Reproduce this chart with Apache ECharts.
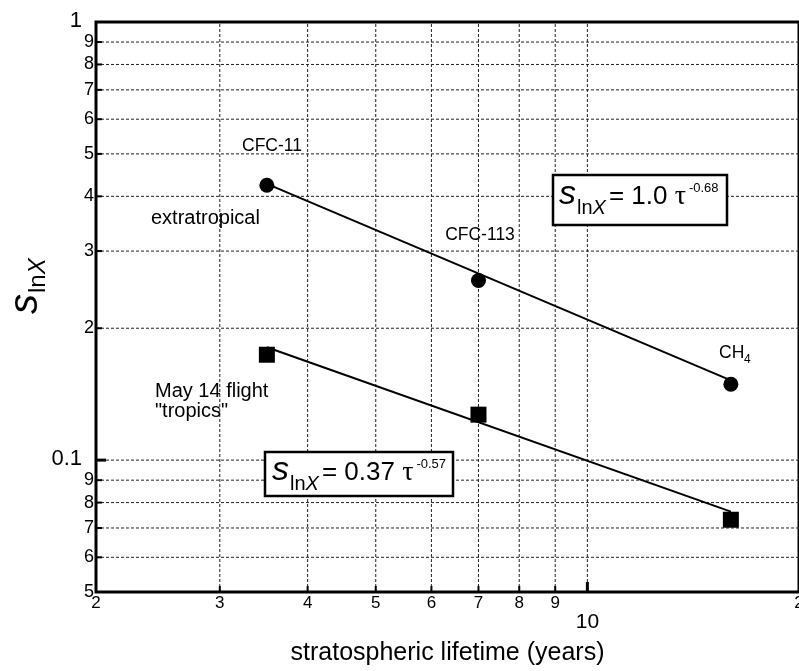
<!DOCTYPE html>
<html>
<head>
<meta charset="utf-8">
<script src="https://cdn.jsdelivr.net/npm/echarts@6/dist/echarts.min.js"></script>
<style>
html,body{margin:0;padding:0;background:#fff;}
#c{width:799px;height:671px;}
</style>
</head>
<body>
<div id="c"></div>
<script>
const FONT = '"Liberation Sans", Arial, Helvetica, sans-serif';
const SERIF = '"Liberation Serif", "Times New Roman", serif';

// axis ranges and tick values
const xRange = [2, 20];
const yRange = [0.05, 1];
const xGridValues = [3, 4, 5, 6, 7, 8, 9, 10];
const yGridValues = [0.06, 0.07, 0.08, 0.09, 0.1, 0.2, 0.3, 0.4, 0.5, 0.6, 0.7, 0.8, 0.9];
const xMinorTicks = [3, 4, 5, 6, 7, 8, 9];
const xMajorTicks = [10];
const yMinorTicks = [0.06, 0.07, 0.08, 0.09, 0.2, 0.3, 0.4, 0.5, 0.6, 0.7, 0.8, 0.9];
const yMajorTicks = [0.1];
const xMinorLabelValues = [2, 3, 4, 5, 6, 7, 8, 9, 20];
const xMinorLabelTexts = ['2', '3', '4', '5', '6', '7', '8', '9', '2'];
const xMajorLabelValues = [10];
const xMajorLabelTexts = ['10'];
const yMinorLabelValues = [0.05, 0.06, 0.07, 0.08, 0.09, 0.2, 0.3, 0.4, 0.5, 0.6, 0.7, 0.8, 0.9];
const yMinorLabelTexts = ['5', '6', '7', '8', '9', '2', '3', '4', '5', '6', '7', '8', '9'];
const yMajorLabelValues = [0.1, 1];
const yMajorLabelTexts = ['0.1', '1'];

// data
const lifetime = [3.5, 7.0, 16.0];
const sExtratropical = [0.424, 0.257, 0.149];
const sTropics = [0.174, 0.127, 0.0731];
const fitLifetime = [3.5, 16.0];
const fitExtratropical = [0.427, 0.152];
const fitTropics = [0.181, 0.0763];

const chart = echarts.init(document.getElementById('c'), null, {renderer: 'canvas'});

function pt(dir, v) {
  return dir === 'x' ? [v, yRange[0]] : [xRange[0], v];
}

function gridLineSeries(values, dir) {
  return {
    type: 'custom', silent: true, z: 1, clip: false,
    data: values.map(v => pt(dir, v)),
    renderItem: (params, api) => {
      const v = api.value(dir === 'x' ? 0 : 1);
      const a = dir === 'x' ? api.coord([v, yRange[0]]) : api.coord([xRange[0], v]);
      const b = dir === 'x' ? api.coord([v, yRange[1]]) : api.coord([xRange[1], v]);
      return {
        type: 'line',
        shape: {x1: a[0], y1: a[1], x2: b[0], y2: b[1]},
        style: {stroke: '#222', lineWidth: 1, lineDash: [3, 2]}
      };
    }
  };
}

function tickSeries(values, dir, len, width) {
  return {
    type: 'custom', silent: true, z: 4, clip: false,
    data: values.map(v => pt(dir, v)),
    renderItem: (params, api) => {
      const p = api.coord([api.value(0), api.value(1)]);
      const shape = dir === 'x'
        ? {x1: p[0], y1: p[1], x2: p[0], y2: p[1] - len}
        : {x1: p[0], y1: p[1], x2: p[0] + len, y2: p[1]};
      return {type: 'line', shape: shape, style: {stroke: '#000', lineWidth: width}};
    }
  };
}

function labelSeries(values, texts, dir, font, align, dx, dy) {
  return {
    type: 'custom', silent: true, z: 4, clip: false,
    data: values.map(v => pt(dir, v)),
    renderItem: (params, api) => {
      const p = api.coord([api.value(0), api.value(1)]);
      return {
        type: 'text', x: p[0] + dx, y: p[1] + dy,
        style: {text: texts[params.dataIndex], font: font, fill: '#000', align: align, verticalAlign: 'middle'}
      };
    }
  };
}

const measureCtx = document.createElement('canvas').getContext('2d');
function textWidth(t, font) { measureCtx.font = font; return measureCtx.measureText(t).width; }
function mathText(left, baseline, parts, z) {
  let x = left;
  const children = [];
  parts.forEach(p => {
    const font = (p.style || 'normal') + ' ' + p.size + 'px ' + (p.family || FONT);
    children.push({
      type: 'text', x: x, y: baseline + (p.dy || 0) - 0.35 * p.size, z: z,
      style: {text: p.text, font: font, fill: '#000', align: 'left', verticalAlign: 'middle'}
    });
    x += textWidth(p.text, font) + (p.gap || 0);
  });
  return children;
}

function plainText(text, x, y, size, align) {
  return {type: 'text', x: x, y: y, z: 10,
    style: {text: text, font: size + 'px ' + FONT, fill: '#000', align: align || 'left', verticalAlign: 'middle'}};
}

const eq1 = [
  {text: 's', size: 34, style: 'italic', gap: 1},
  {text: 'ln', size: 20, dy: 9},
  {text: 'X', size: 20, style: 'italic', dy: 9, gap: 3},
  {text: '= 1.0 ', size: 26},
  {text: 'τ', size: 28, family: SERIF, gap: 3},
  {text: '-0.68', size: 13, dy: -13}
];
const eq2 = [
  {text: 's', size: 34, style: 'italic', gap: 1},
  {text: 'ln', size: 20, dy: 9},
  {text: 'X', size: 20, style: 'italic', dy: 9, gap: 3},
  {text: '= 0.37 ', size: 26},
  {text: 'τ', size: 28, family: SERIF, gap: 3},
  {text: '-0.57', size: 13, dy: -13}
];
const yTitle = [
  {text: 's', size: 40, style: 'italic', gap: 1},
  {text: 'ln', size: 24, dy: 7},
  {text: 'X', size: 24, style: 'italic', dy: 7}
];

const graphics = [
  plainText('CFC-11', 272, 146, 17.5, 'center'),
  plainText('extratropical', 151, 218, 20, 'left'),
  plainText('CFC-113', 480, 235, 17.5, 'center'),
  plainText('CH', 719, 353, 17.5, 'left'),
  plainText('4', 744, 360, 12, 'left'),
  plainText('May 14 flight', 155, 391, 20, 'left'),
  plainText('"tropics"', 155, 411, 20, 'left'),
  {type: 'rect', z: 9, shape: {x: 553, y: 175, width: 174, height: 50},
    style: {fill: '#fff', stroke: '#000', lineWidth: 2.5}},
  {type: 'group', children: mathText(559, 206, eq1, 10)},
  {type: 'rect', z: 9, shape: {x: 265, y: 452, width: 188, height: 44},
    style: {fill: '#fff', stroke: '#000', lineWidth: 2.5}},
  {type: 'group', children: mathText(272, 482, eq2, 10)},
  {type: 'group', x: 40, y: 314, rotation: Math.PI / 2, children: mathText(0, 0, yTitle, 10)}
];

const option = {
  animation: false,
  backgroundColor: '#fff',
  grid: {left: 96, top: 22, right: -2, bottom: 77, show: true, borderColor: '#000', borderWidth: 3, backgroundColor: 'transparent'},
  xAxis: {
    type: 'log', logBase: 10, min: xRange[0], max: xRange[1],
    axisLine: {show: false}, axisTick: {show: false}, axisLabel: {show: false}, splitLine: {show: false},
    name: 'stratospheric lifetime (years)', nameLocation: 'middle', nameGap: 49,
    nameTextStyle: {fontFamily: FONT, fontSize: 25, color: '#000'}
  },
  yAxis: {
    type: 'log', logBase: 10, min: yRange[0], max: yRange[1],
    axisLine: {show: false}, axisTick: {show: false}, axisLabel: {show: false}, splitLine: {show: false}
  },
  graphic: graphics,
  series: [
    gridLineSeries(xGridValues, 'x'),
    gridLineSeries(yGridValues, 'y'),
    tickSeries(xMinorTicks, 'x', 6, 2),
    tickSeries(xMajorTicks, 'x', 10, 3),
    tickSeries(yMinorTicks, 'y', 6, 2),
    tickSeries(yMajorTicks, 'y', 10, 3),
    labelSeries(xMinorLabelValues, xMinorLabelTexts, 'x', '17px ' + FONT, 'center', 0, 11),
    labelSeries(xMajorLabelValues, xMajorLabelTexts, 'x', '21px ' + FONT, 'center', 0, 30),
    labelSeries(yMinorLabelValues, yMinorLabelTexts, 'y', '18px ' + FONT, 'right', -2, 0),
    labelSeries(yMajorLabelValues, yMajorLabelTexts, 'y', '22px ' + FONT, 'right', -14, -1),
    {
      name: 'extratropical fit', type: 'line', z: 5, symbol: 'none', silent: true,
      data: fitLifetime.map((t, i) => [t, fitExtratropical[i]]),
      lineStyle: {color: '#000', width: 2}
    },
    {
      name: 'tropics fit', type: 'line', z: 5, symbol: 'none', silent: true,
      data: fitLifetime.map((t, i) => [t, fitTropics[i]]),
      lineStyle: {color: '#000', width: 2}
    },
    {
      name: 'extratropical', type: 'scatter', z: 6, symbol: 'circle', symbolSize: 15,
      data: lifetime.map((t, i) => [t, sExtratropical[i]]),
      itemStyle: {color: '#000', opacity: 1}
    },
    {
      name: 'May 14 flight "tropics"', type: 'scatter', z: 6, symbol: 'rect', symbolSize: 16,
      data: lifetime.map((t, i) => [t, sTropics[i]]),
      itemStyle: {color: '#000', opacity: 1}
    }
  ]
};
chart.setOption(option);
</script>
</body>
</html>
